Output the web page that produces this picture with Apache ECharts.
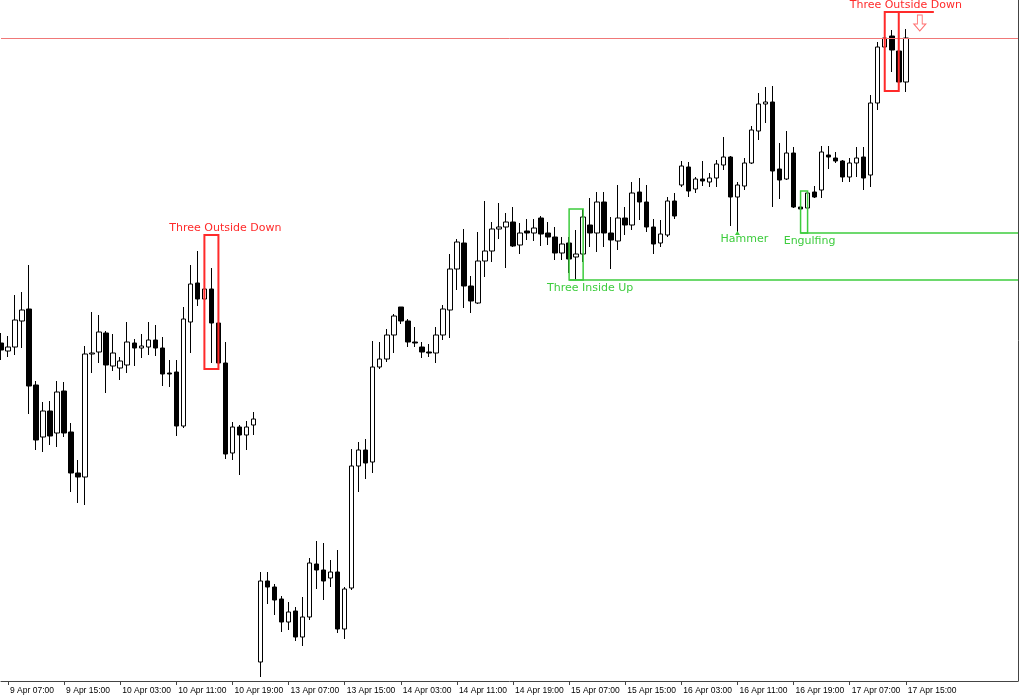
<!DOCTYPE html>
<html>
<head>
<meta charset="utf-8">
<script src="https://cdn.jsdelivr.net/npm/echarts@6/dist/echarts.min.js"></script>
<style>
html,body{margin:0;padding:0;background:#fff;}
#chart{width:1020px;height:700px;}
</style>
</head>
<body>
<div id="chart"></div>
<script>
// ---- DATA ----
const tickLabels = ['9 Apr 07:00','9 Apr 15:00','10 Apr 03:00','10 Apr 11:00','10 Apr 19:00','13 Apr 07:00','13 Apr 15:00','14 Apr 03:00','14 Apr 11:00','14 Apr 19:00','15 Apr 07:00','15 Apr 15:00','16 Apr 03:00','16 Apr 11:00','16 Apr 19:00','17 Apr 07:00','17 Apr 15:00'];

const open = [338,330,334,360,372,296,244,270,248,290, 249,208,204,327,329,348,315,313,316,338, 333,334,341,333,308,309,255,359,398,382, 392,358,318,228,254,246,256,19,100,94, 82,59,70,44,64,117,111,103,109,52, 93,215,231,219,314,322,346,374,360,339, 334,329,328,346,371,412,438,395,378,420, 430,452,454,459,436,450,448,463,448,444, 428,438,424,427,456,448,479,448,440,463, 456,489,479,454,438,446,480,496,514,492, 502,499,503,516,524,484,495,518,550,577, 579,512,502,528,474,473,489,491,526,523, 520,504,518,524,506,578,634,645,630,599];

const close = [331,334,361,371,295,241,270,245,289,248, 208,204,327,328,349,316,328,320,339,333, 335,341,333,307,307,255,362,397,382,392, 358,318,227,254,246,254,262,100,94,81, 59,69,44,64,118,111,100,109,52,92, 215,231,218,314,322,346,365,360,339,338, 329,328,346,372,412,439,395,380,420,430, 452,454,459,435,448,448,453,447,444,428, 437,422,427,464,448,479,448,441,463,456, 488,479,454,437,447,480,465,515,490,502, 500,503,517,524,484,496,518,551,577,579, 510,501,528,474,472,488,484,529,524,520, 504,518,523,503,578,634,643,631,599,643];

const low = [321,324,326,333,267,231,229,236,234,244, 189,178,176,308,318,288,310,301,308,315, 323,326,325,295,294,245,253,328,375,375, 318,312,222,221,206,231,246,4,77,66, 49,51,40,35,61,92,81,94,48,42, 91,189,202,208,312,319,328,357,334,334, 323,324,318,341,343,391,373,368,377,404, 419,442,413,434,427,441,440,435,436,421, 421,408,401,419,434,429,434,412,431,446, 451,461,449,427,434,444,462,494,484,488, 495,494,494,511,455,448,491,517,541,558, 474,482,501,473,448,463,483,483,512,518, 499,499,504,491,494,571,629,609,590,589];

const high = [348,345,386,389,416,300,279,280,300,299, 258,221,335,369,366,350,347,324,359,342, 347,359,356,344,321,321,374,416,430,446, 413,394,339,259,256,260,269,109,109,97, 85,79,74,84,123,140,138,121,131,94, 232,239,242,340,339,352,367,374,362,354, 339,337,354,376,427,442,452,405,449,480, 459,478,468,474,458,462,462,465,459,454, 444,444,451,472,483,489,489,464,496,474, 499,503,496,462,461,484,488,520,519,504, 520,508,521,544,525,499,523,555,588,594, 595,538,550,534,476,490,495,535,535,529, 521,523,534,534,586,639,656,651,669,652];

// candlestick patterns: which bars they cover
const patternNames = ['Three Outside Down','Three Inside Up','Hammer','Engulfing','Three Outside Down'];
const patternStart = [29, 81, 105, 114, 126];
const patternEnd   = [31, 83, 105, 115, 128];
const patternBull  = [false, true, true, true, false];

// ---- BUILD ----
const barsPerLabel = 8, firstLabelBar = 1, totalSlots = 146;
const categories = [];
for (let i = 0; i < totalSlots; i++) {
  const j = (i - firstLabelBar) / barsPerLabel;
  categories.push(Number.isInteger(j) && j >= 0 && j < tickLabels.length ? tickLabels[j] : '');
}
const candles = open.map((o, i) => [o, close[i], low[i], high[i]]);
const labelled = (i) => categories[i] !== '';

const RED = '#ff2a2a', GREEN = '#3dcc3d';
const areas = [], lines = [], points = [];
const labelFont = {fontFamily: 'DejaVu Sans', fontSize: 11};
patternNames.forEach((name, k) => {
  const s = patternStart[k], e = patternEnd[k], bull = patternBull[k];
  const col = bull ? GREEN : RED;
  let hi = -Infinity, lo = Infinity;
  for (let i = s; i <= e; i++) { hi = Math.max(hi, high[i]); lo = Math.min(lo, low[i]); }
  const single = s === e;
  if (!single) {
    areas.push([{coord: [s, hi], itemStyle: {color: 'rgba(0,0,0,0)', borderColor: col, borderWidth: bull ? 1.5 : 2}}, {coord: [e, lo]}]);
  }
  const lblIdx = e + 1;
  if (bull) {
    if (!single) lines.push([{coord: [s, lo], lineStyle: {color: col, width: 1.5, type: 'solid'}}, {coord: [totalSlots - 1, lo]}]);
    if (single) points.push({coord: [s, lo], symbol: 'triangle', symbolSize: [5, 4], itemStyle: {color: col}, label: {show: false}});
    points.push({coord: [lblIdx, lo], symbol: 'rect', symbolSize: 1, itemStyle: {color: 'rgba(0,0,0,0)'},
      label: {show: true, position: 'bottom', distance: single ? 0 : 2, offset: [name === 'Engulfing' ? -5 : 0, 0], formatter: name, color: col, ...labelFont}});
  } else {
    points.push({coord: [lblIdx, hi], symbol: 'rect', symbolSize: 1, itemStyle: {color: 'rgba(0,0,0,0)'},
      label: {show: true, position: 'top', distance: 1, formatter: name, color: col, ...labelFont}});
    if (k === patternNames.length - 1) {
      lines.push([{coord: [s, hi], lineStyle: {color: col, width: 2, type: 'solid'}}, {coord: [e + 5, hi]}]);
      points.push({coord: [e + 3, hi - 11], symbol: 'path://M3,0 L7,0 L7,9 L10,9 L5,16 L0,9 L3,9 Z', symbolSize: [12, 16],
        itemStyle: {color: '#fff', borderColor: '#ff7070', borderWidth: 1}, label: {show: false}});
    }
  }
});

const chart = echarts.init(document.getElementById('chart'), null, {renderer: 'canvas'});
chart.setOption({
  animation: false,
  backgroundColor: '#fff',
  grid: {left: 1, right: 2, top: 0, bottom: 19, containLabel: false},
  xAxis: {
    type: 'category', data: categories, boundaryGap: false,
    axisLine: {show: true, lineStyle: {color: '#444', width: 1}},
    axisTick: {show: true, interval: (i) => labelled(i), length: 4, lineStyle: {color: '#444'}},
    axisLabel: {show: true, interval: (i) => labelled(i), align: 'left', margin: 5, padding: [0, 0, 0, 2],
      color: '#000', fontFamily: 'Liberation Sans', fontSize: 8.5},
    splitLine: {show: false}
  },
  yAxis: {
    type: 'value', position: 'right', min: 0, max: 681, scale: false,
    axisLine: {show: true, lineStyle: {color: '#444', width: 1}},
    axisTick: {show: false}, axisLabel: {show: false}, splitLine: {show: false}
  },
  series: [
    {
      type: 'candlestick', data: candles, barWidth: 5, z: 2,
      itemStyle: {color: '#fff', color0: '#000', borderColor: '#000', borderColor0: '#000', borderWidth: 1},
      markLine: {
        silent: true, symbol: ['none', 'none'], label: {show: false},
        lineStyle: {color: '#f07878', width: 1, type: 'solid'},
        data: [{yAxis: close[close.length - 1]}]
      }
    },
    {
      type: 'line', data: [], z: 5, silent: true,
      markArea: {silent: true, z: 10, data: areas},
      markLine: {silent: true, z: 10, symbol: ['none', 'none'], label: {show: false},
        lineStyle: {type: 'solid'}, data: lines},
      markPoint: {silent: true, z: 11, data: points}
    }
  ]
});
</script>
</body>
</html>
